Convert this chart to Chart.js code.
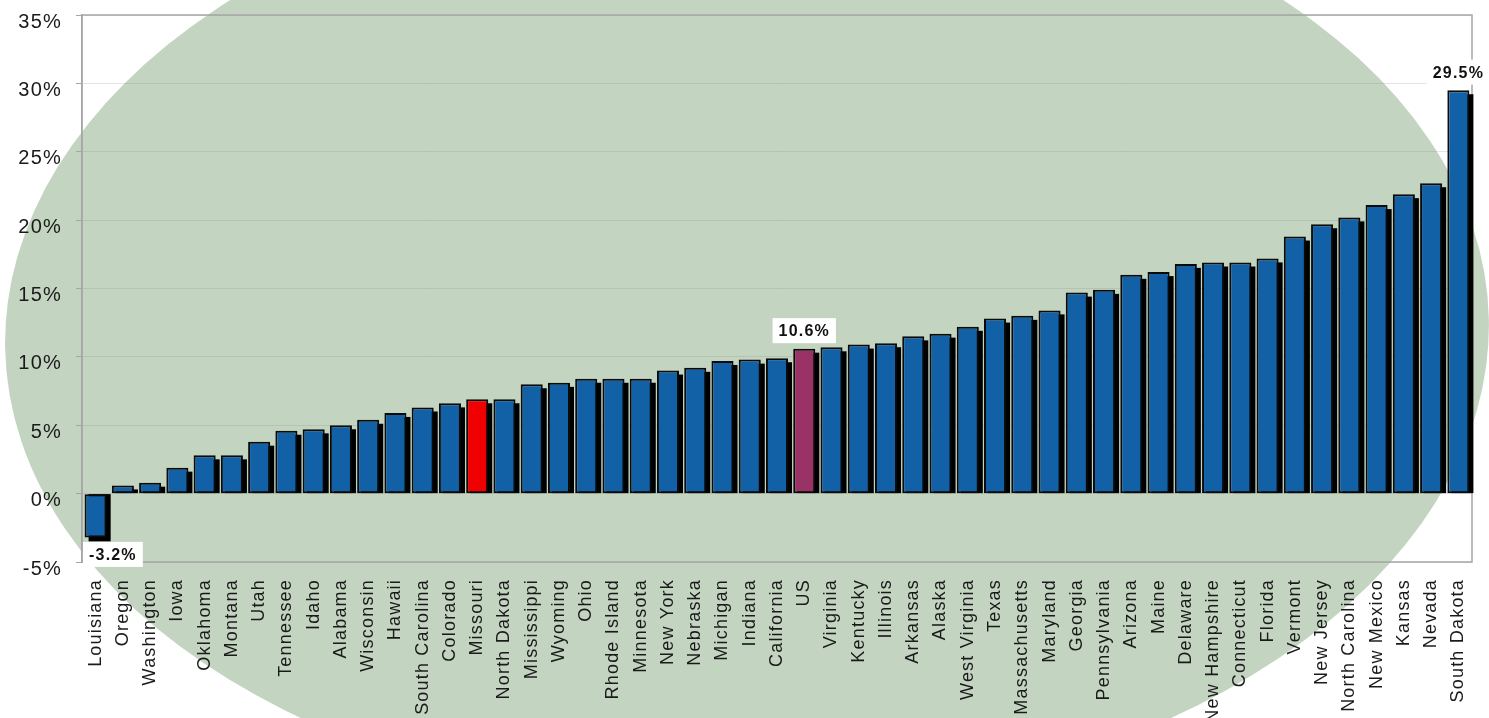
<!DOCTYPE html>
<html>
<head>
<meta charset="utf-8">
<title>Growth by state</title>
<script src="https://cdn.jsdelivr.net/npm/chart.js@4.4.1/dist/chart.umd.min.js"></script>
<style>
    html, body { margin: 0; padding: 0; background: #ffffff; }
    canvas { display: block; }
</style>
</head>
<body>
<canvas id="growthChart" width="1489" height="718"></canvas>
<script>
// chart data
const states = [
    'Louisiana', 'Oregon', 'Washington', 'Iowa', 'Oklahoma', 'Montana', 'Utah',
    'Tennessee', 'Idaho', 'Alabama', 'Wisconsin', 'Hawaii', 'South Carolina',
    'Colorado', 'Missouri', 'North Dakota', 'Mississippi', 'Wyoming', 'Ohio',
    'Rhode Island', 'Minnesota', 'New York', 'Nebraska', 'Michigan', 'Indiana',
    'California', 'US', 'Virginia', 'Kentucky', 'Illinois', 'Arkansas', 'Alaska',
    'West Virginia', 'Texas', 'Massachusetts', 'Maryland', 'Georgia',
    'Pennsylvania', 'Arizona', 'Maine', 'Delaware', 'New Hampshire',
    'Connecticut', 'Florida', 'Vermont', 'New Jersey', 'North Carolina',
    'New Mexico', 'Kansas', 'Nevada', 'South Dakota'
];
const growth = [
    -3.2, 0.6, 0.8, 1.9, 2.8, 2.8, 3.8,
    4.6, 4.7, 5.0, 5.4, 5.9, 6.3,
    6.6, 6.9, 6.9, 8.0, 8.1, 8.4,
    8.4, 8.4, 9.0, 9.2, 9.7, 9.8,
    9.9, 10.6, 10.7, 10.9, 11.0, 11.5, 11.7,
    12.2, 12.8, 13.0, 13.4, 14.7,
    14.9, 16.0, 16.2, 16.8, 16.9,
    16.9, 17.2, 18.8, 19.7, 20.2,
    21.1, 21.9, 22.7, 29.5
];
const yTicks = [-5, 0, 5, 10, 15, 20, 25, 30, 35];
const labeledStates = ['Louisiana', 'US', 'South Dakota'];
const highlightColors = { 'Missouri': '#f00000', 'US': '#9a3365' };
const barColor = '#1260a6';

const barColors = states.map(s => highlightColors[s] || barColor);

// green oval behind the whole chart
const ovalPlugin = {
    id: 'oval',
    beforeDraw(chart) {
        const ctx = chart.ctx;
        ctx.letterSpacing = '1.2px';
        ctx.save();
        ctx.fillStyle = '#c3d5c1';
        ctx.beginPath();
        ctx.ellipse(747, 334, 742, 474, -0.02, 0, Math.PI * 2);
        ctx.fill();
        ctx.restore();
    }
};

// plot frame and the black drop shadow of each bar
const shadowPlugin = {
    id: 'barShadow',
    beforeDatasetsDraw(chart) {
        const ctx = chart.ctx;
        const area = chart.chartArea;
        ctx.save();
        ctx.strokeStyle = '#a6a6a6';
        ctx.lineWidth = 1.5;
        ctx.strokeRect(area.left, area.top, area.right - area.left, area.bottom - area.top);

        ctx.fillStyle = '#000000';
        chart.getDatasetMeta(0).data.forEach((bar, i) => {
            const positive = growth[i] >= 0;
            const top = positive ? bar.y + 4 : bar.base;
            const bottom = positive ? bar.base : bar.y + 4;
            ctx.fillRect(bar.x - bar.width / 2 + 4, top, bar.width, bottom - top);
        });
        ctx.restore();
    }
};

// boxed value labels on a few bars
const valueLabelPlugin = {
    id: 'valueLabels',
    afterDatasetsDraw(chart) {
        const ctx = chart.ctx;
        const area = chart.chartArea;
        const meta = chart.getDatasetMeta(0);
        ctx.save();
        ctx.font = 'bold 16px "Liberation Sans", Arial, sans-serif';
        ctx.textBaseline = 'middle';
        ctx.textAlign = 'left';
        labeledStates.forEach(name => {
            const i = states.indexOf(name);
            const bar = meta.data[i];
            const text = growth[i].toFixed(1) + '%';
            const w = ctx.measureText(text).width + 12;
            const h = 25;
            const cy = growth[i] >= 0 ? bar.y - 18 : bar.y + 17;
            let left = Math.max(bar.x - w / 2, area.left + 1);
            ctx.fillStyle = '#ffffff';
            ctx.fillRect(left, cy - h / 2, w, h);
            ctx.fillStyle = '#111111';
            ctx.fillText(text, left + 6, cy + 1);
        });
        ctx.restore();
    }
};

const canvas = document.getElementById('growthChart');
new Chart(canvas, {
    type: 'bar',
    data: {
        labels: states,
        datasets: [
            {
                data: growth,
                backgroundColor: barColors,
                borderColor: '#0a0a0a',
                borderWidth: 2,
                borderSkipped: false,
                barPercentage: 0.81,
                categoryPercentage: 1
            }
        ]
    },
    options: {
        responsive: false,
        animation: false,
        layout: {
            padding: { top: 15, right: 17, left: 0, bottom: 0 }
        },
        plugins: {
            legend: { display: false },
            tooltip: { enabled: false }
        },
        scales: {
            x: {
                grid: { display: false },
                border: { display: false },
                ticks: {
                    autoSkip: false,
                    minRotation: 90,
                    maxRotation: 90,
                    padding: 9,
                    color: '#1a1a1a',
                    font: { family: '"Liberation Sans", Arial, sans-serif', size: 18 }
                },
                afterFit: function (scale) {
                    scale.height = 156;
                    scale.paddingLeft = 0;
                    scale.paddingRight = 0;
                }
            },
            y: {
                min: -5,
                max: 35,
                afterBuildTicks: function (scale) {
                    scale.ticks = yTicks.map(v => ({ value: v }));
                },
                grid: {
                    color: 'rgba(130, 130, 130, 0.22)',
                    tickColor: '#a6a6a6',
                    tickLength: 6
                },
                border: { color: '#a6a6a6', width: 1.5 },
                ticks: {
                    padding: 14,
                    labelOffset: 7,
                    color: '#1a1a1a',
                    font: { family: '"Liberation Sans", Arial, sans-serif', size: 20 },
                    callback: function (value) {
                        return value + '%';
                    }
                },
                afterFit: function (scale) {
                    scale.width = 82;
                    scale.paddingTop = 0;
                    scale.paddingBottom = 0;
                }
            }
        }
    },
    plugins: [ovalPlugin, shadowPlugin, valueLabelPlugin]
});
</script>
</body>
</html>
